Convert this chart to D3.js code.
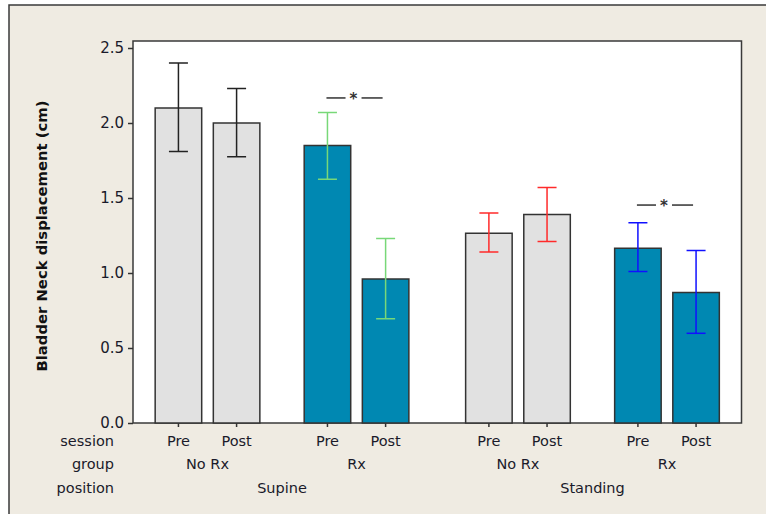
<html>
<head>
  <meta charset='utf-8' />
  <style>
    text { font-family: 'DejaVu Sans', Verdana, sans-serif; fill: #1a1a2a; }
  </style>
</head>

<body style='padding: 0; margin: 0; background: white;'>
  <svg width='766' height='514'></svg>
</body>

<script src="https://d3js.org/d3.v7.min.js"></script>

<script>
///////////////////
/// Data
///////////////////

  positions = ['Supine', 'Standing'];
  groups = ['No Rx', 'Rx'];
  sessions = ['Pre', 'Post'];

  // mean, lower and upper end of the error bar, in the order
  // Supine/NoRx/Pre, Supine/NoRx/Post, Supine/Rx/Pre, Supine/Rx/Post, then Standing
  means = [2.10, 2.00, 1.85, 0.96, 1.265, 1.39, 1.165, 0.87];
  lows  = [1.81, 1.775, 1.625, 0.695, 1.14, 1.21, 1.01, 0.598];
  highs = [2.40, 2.23, 2.07, 1.23, 1.40, 1.57, 1.335, 1.15];

  yTicks = [0.0, 0.5, 1.0, 1.5, 2.0, 2.5];

  // significance brackets: position, level
  sigPositions = ['Supine', 'Standing'];
  sigLevels = [2.167, 1.453];

  barData = means.map((m, i) => ({
    position: positions[Math.floor(i / 4)],
    group: groups[Math.floor(i / 2) % 2],
    session: sessions[i % 2],
    mean: m, low: lows[i], high: highs[i]
  }));

////////////////////
/// Scales
////////////////////

  svg = d3.select('svg');

  // outer panel
  svg.append('rect')
    .attr('x', 9).attr('y', 5)
    .attr('width', 800).attr('height', 560)
    .style('fill', '#efebe2')
    .style('stroke', '#3a3a3a')
    .style('stroke-width', 1.5);

  plot = { left: 133, right: 741.5, top: 41, bottom: 423 };

  scaleY = d3.scaleLinear()
    .domain([0, 2.5])
    .range([423, 48]);

  scalePos = d3.scaleBand()
    .domain(positions)
    .range([plot.left, plot.right])
    .paddingInner(0.04)
    .paddingOuter(0);

  scaleGroup = d3.scaleBand()
    .domain(groups)
    .range([0, scalePos.bandwidth()])
    .paddingInner(0.2)
    .paddingOuter(0.1);

  scaleSession = d3.scaleBand()
    .domain(sessions)
    .range([0, scaleGroup.bandwidth()])
    .paddingInner(0.2)
    .paddingOuter(0.125);

  xLeft = d => scalePos(d.position) + scaleGroup(d.group) + scaleSession(d.session);
  xMid = d => xLeft(d) + scaleSession.bandwidth() / 2;

  errColor = d => {
    if (d.position === 'Supine') return d.group === 'Rx' ? '#78d878' : '#222';
    return d.group === 'Rx' ? '#1010ff' : '#ff2a2a';
  };

////////////////////
/// Plot area
////////////////////

  svg.append('rect')
    .attr('x', plot.left).attr('y', plot.top)
    .attr('width', plot.right - plot.left)
    .attr('height', plot.bottom - plot.top)
    .style('fill', 'white')
    .style('stroke', '#3a3a3a')
    .style('stroke-width', 1.5);

  bars = svg.append('g').attr('id', 'bars');

  bars.selectAll('rect')
    .data(barData)
    .enter().append('rect')
    .attr('x', d => xLeft(d))
    .attr('y', d => scaleY(d.mean))
    .attr('width', scaleSession.bandwidth())
    .attr('height', d => scaleY(0) - scaleY(d.mean))
    .style('fill', d => d.group === 'Rx' ? '#0088b2' : '#e1e1e1')
    .style('stroke', '#333')
    .style('stroke-width', 1.5);

  errs = svg.append('g').attr('id', 'errors')
    .selectAll('g')
    .data(barData)
    .enter().append('g')
    .style('stroke', errColor)
    .style('stroke-width', 1.5);

  errs.append('line')
    .attr('x1', d => xMid(d)).attr('x2', d => xMid(d))
    .attr('y1', d => scaleY(d.low)).attr('y2', d => scaleY(d.high));

  errs.selectAll('.cap')
    .data(d => [d.low, d.high].map(v => ({ v: v, d: d })))
    .enter().append('line')
    .attr('class', 'cap')
    .attr('x1', c => xMid(c.d) - 9.5).attr('x2', c => xMid(c.d) + 9.5)
    .attr('y1', c => scaleY(c.v)).attr('y2', c => scaleY(c.v));

  // significance marks
  sig = svg.append('g').attr('id', 'sig');
  sigPositions.forEach((p, i) => {
    pre = xMid({ position: p, group: 'Rx', session: 'Pre' });
    post = xMid({ position: p, group: 'Rx', session: 'Post' });
    star = (pre + post) / 2 - 3;
    y = scaleY(sigLevels[i]);
    [[pre - 1, star - 8], [star + 8, post - 3]].forEach(s => {
      sig.append('line')
        .attr('x1', s[0]).attr('x2', s[1])
        .attr('y1', y).attr('y2', y)
        .style('stroke', '#333').style('stroke-width', 1.5);
    });
    sig.append('text')
      .attr('x', star).attr('y', y + 6)
      .attr('text-anchor', 'middle')
      .style('font-size', '15px')
      .style('font-weight', 'bold')
      .style('fill', '#333')
      .text('*');
  });

/////////////////
// Axes
/////////////////

  yAxis = d3.axisLeft(scaleY)
    .tickValues(yTicks)
    .tickFormat(d3.format('.1f'))
    .tickSize(5)
    .tickPadding(4);

  gy = svg.append('g')
    .attr('transform', `translate(${plot.left}, 0)`)
    .call(yAxis);
  gy.select('.domain').remove();
  gy.selectAll('line').style('stroke', '#333').style('stroke-width', 1.5);
  gy.selectAll('text')
    .style('font-family', "'DejaVu Sans', Verdana, sans-serif")
    .style('font-size', '15px')
    .style('fill', '#1a1a2a');

  // x ticks
  svg.append('g').selectAll('line')
    .data(barData)
    .enter().append('line')
    .attr('x1', d => xMid(d)).attr('x2', d => xMid(d))
    .attr('y1', plot.bottom).attr('y2', plot.bottom + 4)
    .style('stroke', '#333').style('stroke-width', 1.5);

  labels = svg.append('g').style('font-size', '14.5px');

  labels.selectAll('.sess')
    .data(barData)
    .enter().append('text')
    .attr('x', d => xMid(d))
    .attr('y', 446)
    .attr('text-anchor', 'middle')
    .text(d => d.session);

  groupData = positions.flatMap(p => groups.map(g => ({ position: p, group: g })));
  labels.selectAll('.grp')
    .data(groupData)
    .enter().append('text')
    .attr('x', d => scalePos(d.position) + scaleGroup(d.group) + scaleGroup.bandwidth() / 2)
    .attr('y', 469)
    .attr('text-anchor', 'middle')
    .text(d => d.group);

  labels.selectAll('.pos')
    .data(positions)
    .enter().append('text')
    .attr('x', d => scalePos(d) + scalePos.bandwidth() / 2)
    .attr('y', 493)
    .attr('text-anchor', 'middle')
    .text(d => d);

  labels.selectAll('.rowname')
    .data(['session', 'group', 'position'])
    .enter().append('text')
    .attr('x', 114)
    .attr('y', (d, i) => [446, 469, 493][i])
    .attr('text-anchor', 'end')
    .text(d => d);

  svg.append('text')
    .attr('transform', 'translate(47, 236) rotate(-90)')
    .attr('text-anchor', 'middle')
    .style('font-size', '14.8px')
    .style('font-weight', 'bold')
    .style('fill', '#111')
    .text('Bladder Neck displacement (cm)');

</script>
</html>
